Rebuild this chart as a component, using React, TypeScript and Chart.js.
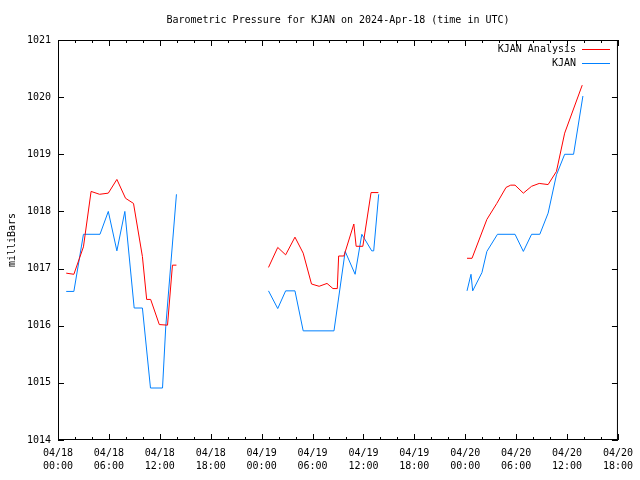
import React, { useEffect, useRef } from "react";
import { Chart, registerables } from "chart.js";

Chart.register(...registerables);

const TITLE = "Barometric Pressure for KJAN on 2024-Apr-18 (time in UTC)";
const Y_LABEL = "milliBars";
const SERIES_NAMES = ["KJAN Analysis", "KJAN"];
const SERIES_COLORS = ["#ff0000", "#0080ff"];

// hours since 2024-04-18 00:00 UTC
const xTickLabels: string[][] = [
  ["04/18", "00:00"], ["04/18", "06:00"], ["04/18", "12:00"], ["04/18", "18:00"],
  ["04/19", "00:00"], ["04/19", "06:00"], ["04/19", "12:00"], ["04/19", "18:00"],
  ["04/20", "00:00"], ["04/20", "06:00"], ["04/20", "12:00"], ["04/20", "18:00"],
];

const analysisTimes = [
  0.97, 1.87, 3.0, 3.9, 4.9, 5.93, 6.94, 7.96, 8.9, 9.95, 10.45, 10.92, 11.94, 12.91, 13.49, 13.96,
  19,
  24.81, 25.9, 26.83, 27.93, 28.9, 29.88, 30.78, 31.71, 32.41, 32.92, 33.08, 33.7, 34.87, 35.14, 35.93, 36.9, 37.76,
  43,
  48.21, 48.8, 50.55, 51.72, 52.81, 53.36, 53.87, 54.85, 55.82, 56.72, 57.77, 58.75, 59.72, 61.79,
];
const analysisValues = [
  1016.92, 1016.9, 1017.38, 1018.35, 1018.3, 1018.32, 1018.56, 1018.23, 1018.14, 1017.21, 1016.46, 1016.46, 1016.02, 1016.01, 1017.06, 1017.06,
  null,
  1017.02, 1017.37, 1017.24, 1017.55, 1017.27, 1016.73, 1016.69, 1016.74, 1016.65, 1016.65, 1017.22, 1017.22, 1017.78, 1017.39, 1017.39, 1018.33, 1018.33,
  null,
  1017.18, 1017.18, 1017.86, 1018.14, 1018.42, 1018.46, 1018.46, 1018.32, 1018.44, 1018.49, 1018.47, 1018.7, 1019.37, 1020.21,
];

const obsTimes = [
  0.97, 1.87, 3.0, 4.95, 5.93, 6.94, 7.88, 8.98, 9.95, 10.9, 12.32, 12.7, 13.96,
  19,
  24.81, 25.9, 26.83, 27.93, 28.9, 32.53, 33.85, 35.02, 35.81, 36.98, 37.21, 37.8,
  43,
  48.21, 48.68, 48.88, 49.97, 50.55, 51.8, 53.87, 54.85, 55.82, 56.79, 57.77, 58.75, 59.72, 60.77, 61.87,
];
const obsValues = [
  1016.6, 1016.6, 1017.6, 1017.6, 1018.0, 1017.31, 1018.0, 1016.31, 1016.31, 1014.91, 1014.91, 1015.98, 1018.3,
  null,
  1016.61, 1016.3, 1016.61, 1016.61, 1015.91, 1015.91, 1017.3, 1016.9, 1017.6, 1017.31, 1017.31, 1018.3,
  null,
  1016.61, 1016.9, 1016.61, 1016.93, 1017.3, 1017.6, 1017.6, 1017.3, 1017.6, 1017.6, 1017.97, 1018.64, 1019.0, 1019.0, 1020.02,
];

const X_MIN = 0;
const X_MAX = 66;
const Y_MIN = 1014;
const Y_MAX = 1021;

const FONT = "'DejaVu Sans Mono', 'Liberation Mono', monospace";

const frameAndLegend = {
  id: "frameAndLegend",
  afterDraw(chart: any) {
    const { ctx, chartArea, scales } = chart;
    const { left, right, top, bottom } = chartArea;
    ctx.save();
    ctx.strokeStyle = "#000";
    ctx.lineWidth = 1;
    ctx.beginPath();
    // x ticks (inward, mirrored)
    for (const t of scales.x.ticks) {
      const px = Math.round(scales.x.getPixelForValue(t.value)) + 0.5;
      const len = t.value % 6 === 0 ? 6 : 3;
      ctx.moveTo(px, bottom);
      ctx.lineTo(px, bottom - len);
      ctx.moveTo(px, top);
      ctx.lineTo(px, top + len);
    }
    for (const t of scales.y.ticks) {
      const py = Math.round(scales.y.getPixelForValue(t.value)) + 0.5;
      ctx.moveTo(left, py);
      ctx.lineTo(left + 6, py);
      ctx.moveTo(right, py);
      ctx.lineTo(right - 6, py);
    }
    ctx.stroke();
    ctx.strokeRect(left + 0.5, top + 0.5, right - left - 1, bottom - top - 1);

    // legend (gnuplot style: text then line sample)
    ctx.font = "10px " + FONT;
    ctx.textAlign = "right";
    ctx.textBaseline = "middle";
    ctx.fillStyle = "#000";
    const rows = [49, 63];
    chart.data.datasets.forEach((ds: any, i: number) => {
      const y = rows[i];
      ctx.fillText(ds.label, 576, y);
      ctx.strokeStyle = ds.borderColor;
      ctx.beginPath();
      ctx.moveTo(582, y + 0.5);
      ctx.lineTo(610, y + 0.5);
      ctx.stroke();
    });
    ctx.restore();
  },
};

export default function App() {
  const canvasRef = useRef<HTMLCanvasElement | null>(null);

  useEffect(() => {
    const canvas = canvasRef.current;
    if (!canvas) return;
    const toPoints = (ts: number[], vs: (number | null)[]) =>
      ts.map((t, i) => ({ x: t, y: vs[i] }));

    const chart = new Chart(canvas, {
      type: "line",
      data: {
        datasets: [
          {
            label: SERIES_NAMES[0],
            data: toPoints(analysisTimes, analysisValues) as any,
            borderColor: SERIES_COLORS[0],
            backgroundColor: SERIES_COLORS[0],
            borderWidth: 1,
            pointRadius: 0,
            tension: 0,
            spanGaps: false,
          },
          {
            label: SERIES_NAMES[1],
            data: toPoints(obsTimes, obsValues) as any,
            borderColor: SERIES_COLORS[1],
            backgroundColor: SERIES_COLORS[1],
            borderWidth: 1,
            pointRadius: 0,
            tension: 0,
            spanGaps: false,
          },
        ],
      },
      options: {
        animation: false,
        responsive: false,
        devicePixelRatio: 1,
        layout: { padding: { left: 0, right: 18, top: 0, bottom: 0 } },
        plugins: {
          legend: { display: false },
          tooltip: { enabled: false },
          title: {
            display: true,
            text: TITLE,
            color: "#000",
            fullSize: false,
            font: { family: FONT, size: 10, weight: "normal", lineHeight: 1.2 },
            padding: { top: 14, bottom: 14 },
          },
        },
        scales: {
          x: {
            type: "linear",
            min: X_MIN,
            max: X_MAX,
            grid: { display: false, drawTicks: false },
            border: { display: false },
            afterFit: (s: any) => {
              s.height = 40;
            },
            ticks: {
              stepSize: 2,
              autoSkip: false,
              maxRotation: 0,
              minRotation: 0,
              padding: 7,
              color: "#000",
              font: { family: FONT, size: 10, lineHeight: 1.3 },
              callback: (v: any) => {
                const n = Number(v);
                if (n % 6 !== 0) return "";
                return xTickLabels[n / 6] || "";
              },
            },
          },
          y: {
            type: "linear",
            min: Y_MIN,
            max: Y_MAX,
            grid: { display: false, drawTicks: false },
            border: { display: false },
            afterFit: (s: any) => {
              s.width = 58;
            },
            title: {
              display: true,
              text: Y_LABEL,
              color: "#000",
              font: { family: FONT, size: 10, lineHeight: 1.2 },
              padding: { top: 6, bottom: 0 },
            },
            ticks: {
              stepSize: 1,
              padding: 7,
              color: "#000",
              font: { family: FONT, size: 10 },
              callback: (v: any) => String(v),
            },
          },
        },
      },
      plugins: [frameAndLegend],
    });
    return () => chart.destroy();
  }, []);

  return (
    <div style={{ position: "absolute", left: 0, top: 0, width: 640, height: 480, background: "#fff" }}>
      <canvas ref={canvasRef} width={640} height={480} style={{ width: 640, height: 480 }} />
    </div>
  );
}
